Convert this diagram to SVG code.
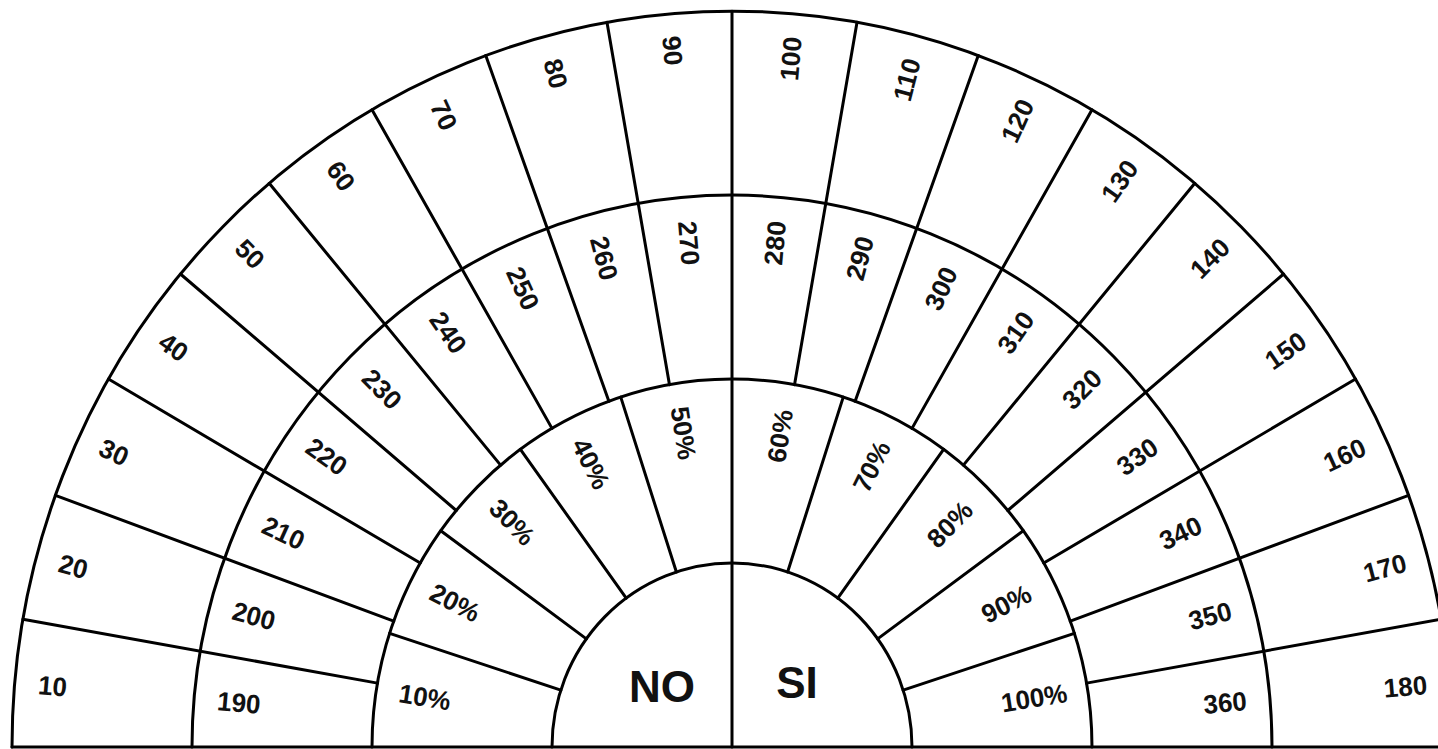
<svg xmlns="http://www.w3.org/2000/svg" width="1438" height="749" viewBox="0 0 1438 749">
<style>
.ln{stroke:#000;stroke-width:3;fill:none;vector-effect:non-scaling-stroke;stroke-linecap:round}
.t{font-family:"Liberation Sans",Arial,sans-serif;font-weight:bold;font-size:26px;fill:#111;text-anchor:middle;dominant-baseline:central}
.big{font-size:44px;dominant-baseline:alphabetic}
</style>
<rect width="1438" height="749" fill="#fff"/>
<g id="connectors">
<line class="ln" x1="12" y1="747" x2="1438" y2="747"/>
<g transform="translate(732,747) scale(1,1.022)">
<path class="ln" d="M-720,0 A720,720 0 0 1 720,0"/>
<path class="ln" d="M-540,0 A540,540 0 0 1 540,0"/>
<path class="ln" d="M-360,0 A360,360 0 0 1 360,0"/>
<path class="ln" d="M-180,0 A180,180 0 0 1 180,0"/>
<line class="ln" x1="0" y1="0" x2="0" y2="-720"/>
<line class="ln" x1="-360" y1="0" x2="-720" y2="0" transform="rotate(10)"/>
<line class="ln" x1="-360" y1="0" x2="-720" y2="0" transform="rotate(20)"/>
<line class="ln" x1="-360" y1="0" x2="-720" y2="0" transform="rotate(30)"/>
<line class="ln" x1="-360" y1="0" x2="-720" y2="0" transform="rotate(40)"/>
<line class="ln" x1="-360" y1="0" x2="-720" y2="0" transform="rotate(50)"/>
<line class="ln" x1="-360" y1="0" x2="-720" y2="0" transform="rotate(60)"/>
<line class="ln" x1="-360" y1="0" x2="-720" y2="0" transform="rotate(70)"/>
<line class="ln" x1="-360" y1="0" x2="-720" y2="0" transform="rotate(80)"/>
<line class="ln" x1="-360" y1="0" x2="-720" y2="0" transform="rotate(100)"/>
<line class="ln" x1="-360" y1="0" x2="-720" y2="0" transform="rotate(110)"/>
<line class="ln" x1="-360" y1="0" x2="-720" y2="0" transform="rotate(120)"/>
<line class="ln" x1="-360" y1="0" x2="-720" y2="0" transform="rotate(130)"/>
<line class="ln" x1="-360" y1="0" x2="-720" y2="0" transform="rotate(140)"/>
<line class="ln" x1="-360" y1="0" x2="-720" y2="0" transform="rotate(150)"/>
<line class="ln" x1="-360" y1="0" x2="-720" y2="0" transform="rotate(160)"/>
<line class="ln" x1="-360" y1="0" x2="-720" y2="0" transform="rotate(170)"/>
<line class="ln" x1="-180" y1="0" x2="-360" y2="0" transform="rotate(18)"/>
<line class="ln" x1="-180" y1="0" x2="-360" y2="0" transform="rotate(36)"/>
<line class="ln" x1="-180" y1="0" x2="-360" y2="0" transform="rotate(54)"/>
<line class="ln" x1="-180" y1="0" x2="-360" y2="0" transform="rotate(72)"/>
<line class="ln" x1="-180" y1="0" x2="-360" y2="0" transform="rotate(108)"/>
<line class="ln" x1="-180" y1="0" x2="-360" y2="0" transform="rotate(126)"/>
<line class="ln" x1="-180" y1="0" x2="-360" y2="0" transform="rotate(144)"/>
<line class="ln" x1="-180" y1="0" x2="-360" y2="0" transform="rotate(162)"/>
</g>
</g>
<g id="labels" transform="translate(732,747) scale(1,1.022)">
<g id="cell-10"><text class="t" transform="rotate(5) translate(-682,0)">10</text></g>
<g id="cell-20"><text class="t" transform="rotate(15) translate(-682,0)">20</text></g>
<g id="cell-30"><text class="t" transform="rotate(25) translate(-682,0)">30</text></g>
<g id="cell-40"><text class="t" transform="rotate(35) translate(-682,0)">40</text></g>
<g id="cell-50"><text class="t" transform="rotate(45) translate(-682,0)">50</text></g>
<g id="cell-60"><text class="t" transform="rotate(55) translate(-682,0)">60</text></g>
<g id="cell-70"><text class="t" transform="rotate(65) translate(-682,0)">70</text></g>
<g id="cell-80"><text class="t" transform="rotate(75) translate(-682,0)">80</text></g>
<g id="cell-90"><text class="t" transform="rotate(85) translate(-684,0)">90</text></g>
<g id="cell-100"><text class="t" transform="rotate(95) translate(-676,0) rotate(180)">100</text></g>
<g id="cell-110"><text class="t" transform="rotate(105) translate(-676,0) rotate(180)">110</text></g>
<g id="cell-120"><text class="t" transform="rotate(115) translate(-676,0) rotate(180)">120</text></g>
<g id="cell-130"><text class="t" transform="rotate(125) translate(-676,0) rotate(180)">130</text></g>
<g id="cell-140"><text class="t" transform="rotate(135) translate(-676,0) rotate(180)">140</text></g>
<g id="cell-150"><text class="t" transform="rotate(145) translate(-676,0) rotate(180)">150</text></g>
<g id="cell-160"><text class="t" transform="rotate(155) translate(-676,0) rotate(180)">160</text></g>
<g id="cell-170"><text class="t" transform="rotate(165) translate(-676,0) rotate(180)">170</text></g>
<g id="cell-180"><text class="t" transform="rotate(175) translate(-676,0) rotate(180)">180</text></g>
<g id="cell-190"><text class="t" transform="rotate(5) translate(-495,0)">190</text></g>
<g id="cell-200"><text class="t" transform="rotate(15) translate(-495,0)">200</text></g>
<g id="cell-210"><text class="t" transform="rotate(25) translate(-495,0)">210</text></g>
<g id="cell-220"><text class="t" transform="rotate(35) translate(-495,0)">220</text></g>
<g id="cell-230"><text class="t" transform="rotate(45) translate(-495,0)">230</text></g>
<g id="cell-240"><text class="t" transform="rotate(55) translate(-495,0)">240</text></g>
<g id="cell-250"><text class="t" transform="rotate(65) translate(-495,0)">250</text></g>
<g id="cell-260"><text class="t" transform="rotate(75) translate(-495,0)">260</text></g>
<g id="cell-270"><text class="t" transform="rotate(85) translate(-495,0)">270</text></g>
<g id="cell-280"><text class="t" transform="rotate(95) translate(-495,0) rotate(180)">280</text></g>
<g id="cell-290"><text class="t" transform="rotate(105) translate(-495,0) rotate(180)">290</text></g>
<g id="cell-300"><text class="t" transform="rotate(115) translate(-495,0) rotate(180)">300</text></g>
<g id="cell-310"><text class="t" transform="rotate(125) translate(-495,0) rotate(180)">310</text></g>
<g id="cell-320"><text class="t" transform="rotate(135) translate(-495,0) rotate(180)">320</text></g>
<g id="cell-330"><text class="t" transform="rotate(145) translate(-495,0) rotate(180)">330</text></g>
<g id="cell-340"><text class="t" transform="rotate(155) translate(-495,0) rotate(180)">340</text></g>
<g id="cell-350"><text class="t" transform="rotate(165) translate(-495,0) rotate(180)">350</text></g>
<g id="cell-360"><text class="t" transform="rotate(175) translate(-495,0) rotate(180)">360</text></g>
<g id="cell-p10"><text class="t" transform="rotate(9) translate(-311,0)">10%</text></g>
<g id="cell-p20"><text class="t" transform="rotate(27) translate(-311,0)">20%</text></g>
<g id="cell-p30"><text class="t" transform="rotate(45) translate(-311,0)">30%</text></g>
<g id="cell-p40"><text class="t" transform="rotate(63) translate(-311,0)">40%</text></g>
<g id="cell-p50"><text class="t" transform="rotate(81) translate(-311,0)">50%</text></g>
<g id="cell-p60"><text class="t" transform="rotate(99) translate(-308,0) rotate(180)">60%</text></g>
<g id="cell-p70"><text class="t" transform="rotate(117) translate(-308,0) rotate(180)">70%</text></g>
<g id="cell-p80"><text class="t" transform="rotate(135) translate(-308,0) rotate(180)">80%</text></g>
<g id="cell-p90"><text class="t" transform="rotate(153) translate(-308,0) rotate(180)">90%</text></g>
<g id="cell-p100"><text class="t" transform="rotate(171) translate(-306,0) rotate(180)">100%</text></g>
</g>
<g id="cell-no"><text class="t big" x="662" y="702">NO</text></g>
<g id="cell-si"><text class="t big" x="797" y="698">SI</text></g>
</svg>
